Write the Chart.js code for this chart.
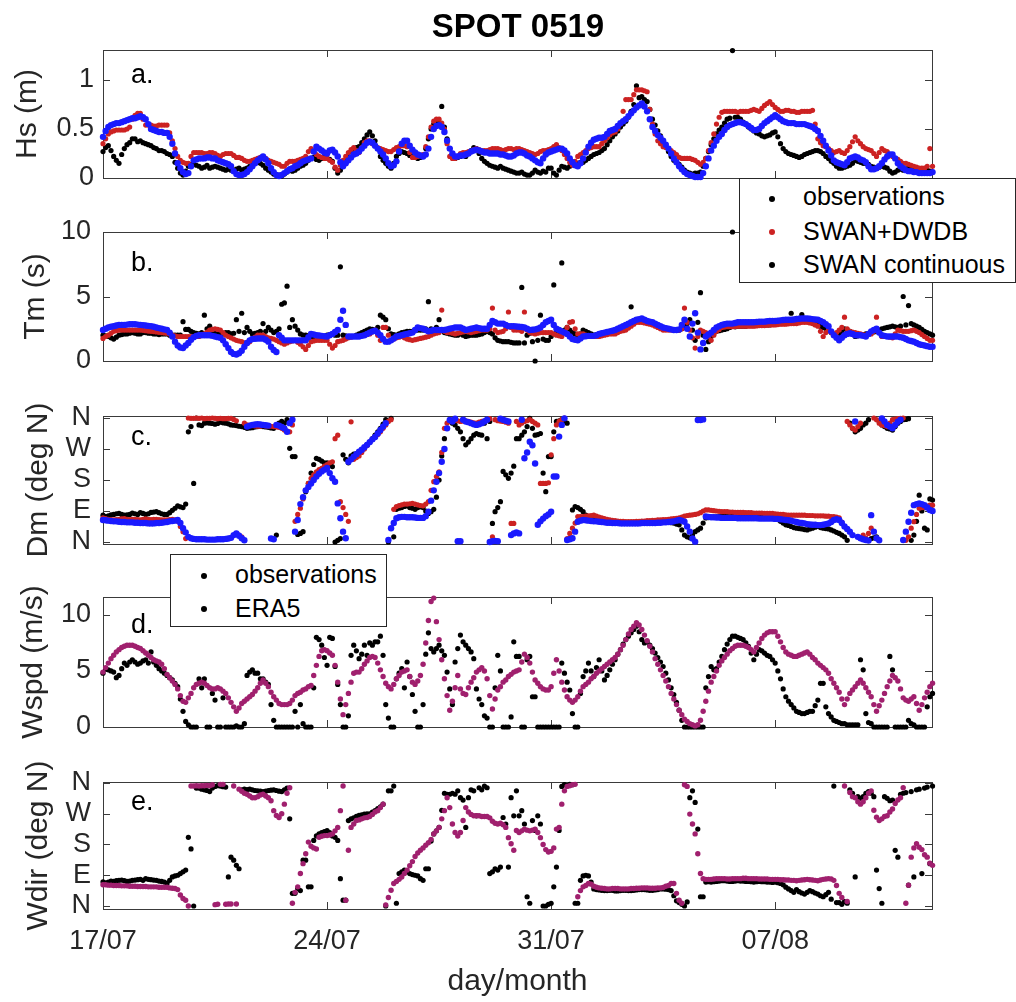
<!DOCTYPE html>
<html><head><meta charset="utf-8">
<script src="https://cdn.jsdelivr.net/npm/chart.js@4.4.1/dist/chart.umd.min.js"></script>
<style>
html,body{margin:0;padding:0;background:#fff;}
body{width:1016px;height:1002px;position:relative;overflow:hidden;font-family:"Liberation Sans",Arial,sans-serif;}
canvas{position:absolute;left:0;top:0;}
.t{position:absolute;line-height:1;white-space:nowrap;color:#000;}
.leg{position:absolute;border:1px solid #262626;background:#fff;box-sizing:border-box;}
.dot{position:absolute;width:6px;height:6px;border-radius:50%;background:#000;}
</style></head><body>
<canvas id="ca" width="1016" height="1002"></canvas>
<canvas id="cb" width="1016" height="1002"></canvas>
<canvas id="cc" width="1016" height="1002"></canvas>
<canvas id="cd" width="1016" height="1002"></canvas>
<canvas id="ce" width="1016" height="1002"></canvas>
<div class="t" id="title" style="font-weight:bold;font-size:33px;left:0;width:1036px;text-align:center;top:9px;">SPOT 0519</div>
<div class="leg" style="left:739px;top:178px;width:277px;height:105px;">
  <div class="dot" style="left:29px;top:17px;"></div><div class="t" style="left:63px;top:5px;font-size:25px;">observations</div>
  <div class="dot" style="left:29px;top:50px;background:#cc2222;"></div><div class="t" style="left:63px;top:40px;font-size:25px;">SWAN+DWDB</div>
  <div class="dot" style="left:29px;top:83px;"></div><div class="t" style="left:63px;top:73px;font-size:25px;">SWAN continuous</div>
</div>
<div class="leg" style="left:170px;top:554px;width:217px;height:73px;">
  <div class="dot" style="left:30px;top:18px;"></div><div class="t" style="left:64px;top:7px;font-size:25px;">observations</div>
  <div class="dot" style="left:30px;top:51px;"></div><div class="t" style="left:64px;top:41px;font-size:25px;">ERA5</div>
</div>
<script>
// ---------------- DATA (2-hourly samples from 17/07 00:00, one row = one day) ----------------
const XTICK_DAYS = [0, 7, 14, 21];
const XTICK_LABELS = ['17/07', '24/07', '31/07', '07/08'];
const X_MAX_DAYS = 25.9;
const STEP_DAYS = 1 / 12;

const HS_SWAN = [
0.42,0.48,0.52,0.54,0.55,0.56,0.56,0.57,0.58,0.59,0.60,0.61,
0.61,0.62,0.63,0.62,0.60,0.55,0.50,0.49,0.48,0.47,0.47,0.46,
0.46,0.42,0.35,0.25,0.15,0.10,0.06,0.04,0.05,0.12,0.18,0.19,
0.20,0.20,0.20,0.21,0.21,0.20,0.20,0.18,0.17,0.16,0.15,0.14,
0.12,0.07,0.04,0.03,0.03,0.04,0.06,0.09,0.12,0.15,0.18,0.20,
0.22,0.19,0.15,0.10,0.06,0.03,0.02,0.03,0.05,0.07,0.09,0.10,
0.12,0.13,0.15,0.17,0.18,0.19,0.20,0.27,0.32,0.30,0.28,0.26,
0.25,0.28,0.29,0.26,0.22,0.16,0.12,0.15,0.18,0.21,0.24,0.25,
0.27,0.30,0.33,0.36,0.37,0.36,0.33,0.30,0.27,0.24,0.20,0.15,
0.12,0.13,0.17,0.27,0.35,0.38,0.38,0.33,0.29,0.26,0.24,0.23,
0.22,0.24,0.30,0.42,0.50,0.53,0.54,0.52,0.47,0.38,0.30,0.25,
0.22,0.22,0.23,0.23,0.24,0.25,0.27,0.28,0.29,0.28,0.27,0.26,
0.26,0.25,0.25,0.25,0.25,0.24,0.24,0.23,0.22,0.22,0.23,0.25,
0.26,0.26,0.25,0.23,0.22,0.20,0.18,0.16,0.15,0.20,0.24,0.26,
0.27,0.28,0.29,0.30,0.30,0.28,0.25,0.20,0.16,0.13,0.12,0.15,
0.20,0.26,0.32,0.36,0.39,0.40,0.41,0.41,0.42,0.45,0.48,0.49,
0.50,0.53,0.56,0.58,0.60,0.63,0.66,0.69,0.72,0.74,0.76,0.73,
0.68,0.60,0.52,0.48,0.44,0.41,0.38,0.34,0.30,0.25,0.20,0.16,
0.12,0.09,0.06,0.04,0.03,0.02,0.01,0.01,0.01,0.05,0.12,0.20,
0.28,0.33,0.38,0.42,0.45,0.49,0.52,0.54,0.55,0.56,0.57,0.57,
0.56,0.55,0.53,0.51,0.49,0.49,0.50,0.53,0.56,0.58,0.60,0.62,
0.64,0.62,0.60,0.58,0.57,0.56,0.56,0.56,0.55,0.55,0.55,0.55,
0.54,0.53,0.52,0.50,0.48,0.43,0.38,0.33,0.28,0.23,0.18,0.16,
0.15,0.14,0.13,0.16,0.20,0.21,0.22,0.21,0.19,0.18,0.16,0.12,
0.09,0.09,0.10,0.12,0.15,0.19,0.22,0.24,0.24,0.20,0.15,0.12,
0.10,0.08,0.07,0.07,0.06,0.06,0.05,0.05,0.05,0.05,0.05,0.06];
const HS_DWDB = [
0.35,0.40,0.45,0.47,0.48,0.49,0.49,0.49,0.49,0.50,0.52,0.60,
0.64,0.66,0.66,0.60,0.54,0.54,0.54,0.53,0.53,0.54,0.54,0.54,
0.54,0.46,0.38,0.30,0.22,0.18,0.16,0.15,0.15,0.22,0.26,0.26,
0.26,0.26,0.25,0.25,0.26,0.26,0.25,0.23,0.22,0.24,0.25,0.25,
0.25,0.23,0.21,0.21,0.20,0.18,0.17,0.17,0.18,0.19,0.20,0.21,
0.21,0.20,0.18,0.17,0.16,0.15,0.14,0.12,0.12,0.15,0.17,0.17,
0.17,0.18,0.19,0.20,0.22,0.27,0.30,0.27,0.24,0.22,0.21,0.20,
0.20,0.18,0.16,0.11,0.08,0.13,0.18,0.22,0.26,0.29,0.31,0.28,
0.26,0.31,0.36,0.38,0.38,0.35,0.33,0.31,0.30,0.29,0.28,0.27,
0.27,0.29,0.31,0.32,0.33,0.33,0.32,0.26,0.21,0.21,0.22,0.23,
0.24,0.32,0.42,0.52,0.58,0.60,0.60,0.56,0.50,0.35,0.22,0.20,
0.20,0.22,0.25,0.26,0.26,0.27,0.27,0.29,0.30,0.29,0.28,0.28,
0.28,0.29,0.30,0.30,0.30,0.29,0.28,0.29,0.30,0.30,0.29,0.30,
0.30,0.29,0.28,0.27,0.26,0.25,0.24,0.25,0.27,0.28,0.28,0.29,
0.30,0.32,0.34,0.31,0.28,0.24,0.20,0.16,0.13,0.17,0.22,0.24,
0.26,0.28,0.30,0.31,0.32,0.32,0.32,0.35,0.38,0.41,0.44,0.46,
0.47,0.50,0.55,0.68,0.80,0.80,0.80,0.85,0.90,0.90,0.90,0.89,
0.88,0.70,0.55,0.45,0.38,0.35,0.32,0.31,0.30,0.28,0.26,0.24,
0.21,0.20,0.20,0.20,0.20,0.19,0.18,0.16,0.14,0.16,0.20,0.28,
0.36,0.45,0.55,0.62,0.67,0.68,0.68,0.68,0.68,0.68,0.67,0.68,
0.68,0.68,0.68,0.69,0.70,0.69,0.68,0.71,0.74,0.76,0.78,0.75,
0.72,0.70,0.68,0.68,0.69,0.69,0.68,0.68,0.67,0.67,0.68,0.68,
0.68,0.68,0.69,0.55,0.40,0.36,0.33,0.32,0.30,0.28,0.26,0.27,
0.28,0.26,0.25,0.28,0.32,0.37,0.42,0.38,0.35,0.32,0.30,0.29,
0.28,0.25,0.22,0.26,0.30,0.28,0.27,0.24,0.22,0.20,0.19,0.17,
0.15,0.15,0.14,0.13,0.12,0.11,0.10,0.10,0.10,0.12,0.30,0.12];
const HS_OBS = [
0.27,0.31,0.33,0.28,0.22,0.18,0.15,0.24,0.30,0.34,0.36,0.40,
0.40,0.37,0.38,0.36,0.35,0.34,0.33,0.31,0.30,0.28,0.28,0.27,
0.25,0.24,0.22,0.16,0.10,0.05,0.03,0.07,0.12,0.14,0.14,0.13,
0.12,0.10,0.11,0.13,0.10,0.11,0.12,0.11,0.10,0.09,0.08,0.09,
0.08,0.07,0.09,0.10,0.08,0.09,0.10,0.12,0.13,0.15,0.16,0.15,
0.13,0.10,0.08,0.06,0.04,0.03,0.03,0.02,0.04,0.06,0.08,0.07,
0.08,0.10,0.12,0.13,0.15,0.18,0.20,0.21,0.19,0.18,0.20,0.21,
0.20,0.19,0.17,0.10,0.05,0.08,0.12,0.17,0.22,0.27,0.30,0.31,
0.32,0.36,0.40,0.44,0.47,0.43,0.38,0.30,0.22,0.18,0.15,0.12,
0.10,0.15,0.22,0.25,0.27,0.26,0.25,0.23,0.22,0.21,0.20,0.21,
0.22,0.30,0.40,0.50,0.55,0.57,0.56,0.73,0.52,0.40,0.30,0.24,
0.20,0.21,0.22,0.24,0.22,0.25,0.28,0.31,0.30,0.25,0.20,0.17,
0.15,0.13,0.12,0.11,0.10,0.12,0.10,0.09,0.08,0.07,0.06,0.05,
0.05,0.06,0.04,0.03,0.03,0.05,0.08,0.06,0.05,0.07,0.06,0.10,
0.10,0.05,0.03,0.08,0.12,0.11,0.10,0.12,0.14,0.15,0.15,0.16,
0.16,0.18,0.20,0.22,0.24,0.25,0.26,0.28,0.30,0.34,0.38,0.42,
0.45,0.48,0.52,0.55,0.58,0.62,0.68,0.75,0.94,0.82,0.83,0.80,
0.78,0.70,0.60,0.54,0.48,0.43,0.38,0.32,0.27,0.22,0.18,0.16,
0.14,0.11,0.08,0.06,0.05,0.04,0.05,0.05,0.06,0.12,0.20,0.27,
0.34,0.40,0.45,0.49,0.52,0.56,0.60,0.61,1.30,0.62,0.62,0.60,
0.57,0.55,0.52,0.50,0.48,0.46,0.45,0.43,0.42,0.43,0.44,0.46,
0.47,0.42,0.35,0.30,0.27,0.25,0.24,0.23,0.22,0.21,0.22,0.24,
0.25,0.26,0.27,0.28,0.28,0.27,0.25,0.22,0.20,0.17,0.15,0.12,
0.10,0.10,0.11,0.12,0.13,0.15,0.18,0.17,0.16,0.15,0.15,0.14,
0.12,0.11,0.10,0.11,0.12,0.11,0.10,0.07,0.05,0.06,0.08,0.09,
0.08,0.09,0.10,0.10,0.09,0.08,0.08,0.07,0.07,0.08,0.07,0.06];

const TM_SWAN = [
2.4,2.5,2.6,2.65,2.7,2.75,2.8,2.8,2.8,2.82,2.85,2.85,
2.85,2.82,2.8,2.78,2.75,2.72,2.7,2.65,2.6,2.55,2.5,2.45,
2.4,2.2,1.9,1.5,1.2,1.05,1.0,1.2,1.4,1.65,1.85,1.95,
2.0,2.0,2.0,2.0,2.0,1.95,1.9,1.85,1.8,1.6,1.3,1.0,
0.7,0.55,0.5,0.6,0.8,1.1,1.4,1.6,1.7,1.72,1.75,1.75,
1.75,1.65,1.5,1.1,0.85,0.7,2.0,1.8,1.6,1.6,1.6,1.6,
1.6,1.6,1.6,1.6,1.6,1.85,2.1,2.05,2.0,1.98,1.95,1.92,
1.9,2.0,2.1,2.25,2.4,3.2,3.9,2.8,1.9,1.9,1.9,1.9,
1.9,1.95,2.0,2.1,2.2,2.3,2.35,2.2,2.0,1.7,1.5,1.5,
1.6,1.75,1.9,1.95,2.0,2.05,2.1,2.15,2.2,2.4,2.6,2.55,
2.5,2.4,2.3,2.35,2.4,2.4,2.4,2.4,2.4,2.45,2.5,2.55,
2.6,2.6,2.6,2.5,2.4,2.45,2.5,2.55,2.6,2.55,2.5,2.5,
2.5,2.8,3.1,3.0,2.9,2.9,2.9,2.8,2.7,2.7,2.7,2.68,
2.66,2.63,2.6,2.5,2.4,2.42,2.45,2.5,2.6,2.8,3.0,3.1,
3.2,2.8,2.5,2.4,2.3,2.2,2.1,1.9,1.7,1.65,1.6,1.75,
1.9,1.92,1.95,1.95,1.95,2.0,2.1,2.15,2.2,2.25,2.3,2.35,
2.4,2.5,2.6,2.7,2.8,2.9,3.0,3.1,3.2,3.25,3.3,3.2,
3.1,3.05,3.0,2.9,2.8,2.7,2.6,2.55,2.5,2.45,2.4,2.4,
2.45,2.8,3.2,2.5,1.9,2.9,3.7,2.2,0.9,1.4,1.9,2.05,
2.2,2.4,2.6,2.7,2.8,2.85,2.9,2.9,2.9,2.95,3.0,3.0,
3.0,3.0,3.0,3.0,3.0,3.02,3.05,3.05,3.05,3.08,3.1,3.1,
3.1,3.12,3.15,3.18,3.2,3.2,3.2,3.22,3.25,3.28,3.3,3.3,
3.3,3.28,3.25,3.22,3.2,3.1,3.0,2.85,2.7,2.3,2.0,1.8,
1.6,1.8,2.0,2.1,2.15,2.1,2.0,2.0,2.0,1.95,1.9,2.1,
2.3,2.4,2.5,2.2,2.0,1.95,1.9,1.9,1.9,1.9,1.9,1.85,
1.8,1.7,1.6,1.55,1.5,1.4,1.3,1.25,1.2,1.15,1.1,1.1];
const TM_DWDB = [
1.75,1.9,2.0,2.15,2.3,2.35,2.4,2.4,2.4,2.4,2.4,2.4,
2.4,2.4,2.4,2.38,2.35,2.32,2.3,2.28,2.25,2.22,2.2,2.18,
2.15,2.1,2.0,1.95,1.9,1.9,1.9,1.9,1.9,1.9,1.9,1.9,
1.9,2.0,2.1,2.25,2.4,2.45,2.5,2.45,2.4,2.2,2.0,1.9,
1.8,1.7,1.6,1.55,1.5,1.4,1.37,1.5,1.7,1.85,2.0,2.0,
2.0,1.9,1.8,1.75,1.7,1.6,1.5,1.4,1.3,1.4,1.5,1.55,
1.6,1.45,1.3,1.1,0.9,1.2,1.5,1.55,1.6,1.6,1.6,1.6,
1.6,1.3,1.0,1.2,1.5,1.55,1.6,1.7,1.8,1.85,1.9,1.9,
1.9,1.95,2.0,2.05,2.1,2.25,2.4,2.0,1.6,2.6,2.6,2.0,
1.6,1.7,1.8,1.85,1.9,1.8,1.7,1.65,1.6,1.65,1.7,1.75,
1.8,1.85,1.9,2.0,2.1,2.15,2.2,3.95,2.3,2.2,2.2,2.15,
2.1,2.15,2.2,2.25,2.3,2.25,2.2,2.25,2.3,2.35,2.4,2.4,
2.4,2.5,4.1,2.4,2.2,2.25,2.3,2.5,3.8,2.6,2.4,2.4,
2.4,2.3,3.8,2.4,2.2,2.15,2.1,2.15,2.2,2.2,2.2,2.2,
2.2,2.1,2.0,1.95,1.9,2.3,2.6,3.0,3.05,2.5,2.1,2.1,
2.1,2.0,1.9,1.9,1.9,1.9,1.9,1.95,2.0,2.05,2.1,2.1,
2.1,2.2,2.3,2.35,2.4,2.55,2.7,2.85,3.0,3.0,3.0,2.95,
2.9,2.85,2.8,2.7,2.6,2.5,2.4,2.4,2.4,2.4,2.4,2.4,
2.4,2.5,4.1,3.0,2.4,1.8,1.0,1.9,2.4,2.3,2.2,1.9,
1.6,2.0,2.3,2.45,2.6,2.63,2.66,2.66,2.66,2.68,2.7,2.7,
2.7,2.7,2.7,2.7,2.7,2.72,2.75,2.75,2.75,2.78,2.8,2.8,
2.8,2.82,2.85,2.85,2.85,2.88,2.9,2.9,2.9,2.95,3.0,3.0,
3.0,2.95,2.9,2.8,2.7,2.3,1.9,2.2,2.4,2.2,2.0,2.2,
2.4,2.6,3.4,2.5,2.3,2.25,2.2,2.15,2.1,2.05,2.0,2.05,
2.1,2.3,3.4,2.2,1.9,1.9,1.9,1.85,1.8,2.1,2.4,2.35,
2.3,2.3,2.3,2.35,2.4,2.3,2.2,2.05,1.9,1.75,1.6,1.6];
const TM_OBS = [
2.0,1.95,1.9,1.8,1.7,1.85,2.0,2.05,2.1,2.1,2.15,2.2,
2.15,2.1,2.1,2.2,2.2,2.15,2.15,2.1,2.1,2.05,2.1,2.1,
2.1,2.0,2.0,2.0,2.0,2.0,3.05,2.45,2.45,2.3,2.2,2.15,
2.1,2.2,3.55,2.5,2.7,2.3,2.2,2.15,2.1,2.1,2.2,2.2,
2.1,2.15,3.2,2.3,3.7,2.2,2.6,2.3,2.1,2.15,2.2,2.3,
2.9,2.3,2.6,2.4,2.2,2.3,2.5,4.4,4.5,5.8,2.6,3.2,
2.7,2.4,2.1,2.0,2.0,1.95,1.9,1.9,1.9,1.95,1.9,1.9,
2.0,2.05,2.1,2.0,2.0,7.3,2.0,1.95,1.9,1.9,1.9,2.0,
2.1,2.2,2.3,2.4,2.5,2.45,2.4,2.6,3.55,3.4,3.2,2.5,
2.1,2.05,2.0,2.1,2.2,2.25,2.3,2.3,2.3,2.35,2.4,2.4,
2.4,2.5,4.6,2.5,2.4,2.6,3.2,2.4,2.2,2.15,2.1,2.05,
2.0,2.0,2.1,2.0,1.9,1.95,2.0,2.0,2.0,2.05,2.1,2.2,
2.3,2.2,2.1,1.8,1.6,1.55,1.5,1.5,1.5,1.45,1.4,1.4,
1.4,5.7,1.4,2.0,2.15,1.5,0.0,1.6,3.55,1.7,1.6,1.6,
1.9,5.9,2.2,2.0,7.6,2.4,2.6,2.4,2.2,2.1,2.0,2.1,
2.4,2.3,2.2,2.1,2.0,2.05,2.1,2.15,2.2,2.25,2.3,2.35,
2.4,2.45,2.5,2.6,2.7,2.9,4.2,3.1,3.2,3.15,3.1,3.05,
3.0,2.95,2.9,2.8,2.7,2.65,2.6,2.55,2.5,2.45,2.4,2.4,
2.4,2.5,2.6,2.9,3.2,2.4,1.6,3.0,5.3,2.0,0.9,1.5,
1.9,2.1,2.3,2.35,2.4,2.45,2.5,2.6,10.0,2.65,2.7,2.7,
2.7,2.7,2.75,2.75,2.75,2.8,2.8,2.8,2.8,2.8,2.8,2.85,
2.9,2.9,2.9,2.95,2.95,3.0,3.7,3.2,3.3,3.3,3.6,3.3,
3.2,3.1,3.0,2.9,2.8,2.7,2.6,2.5,2.4,2.2,2.0,2.0,
2.1,2.3,2.5,2.4,2.3,2.1,1.9,1.95,2.0,2.05,2.1,2.15,
2.2,2.25,2.3,2.4,2.5,2.55,2.6,2.65,2.7,2.65,2.6,2.7,
5.0,2.8,4.3,2.9,2.8,2.7,2.6,2.45,2.3,2.2,2.1,2.0];

const DM_SWAN = [
64,63,62,61,60,60,59,58,58,57,57,57,
56,56,55,55,55,54,54,54,55,55,56,57,
58,60,61,62,64,55,40,28,15,11,9,8,
8,8,8,7,7,7,7,8,8,8,9,10,
12,20,25,18,11,5,335,338,340,341,342,341,
340,339,338,10,8,340,338,334,330,320,345,355,
30,64,110,130,150,160,170,180,190,198,205,210,
215,200,185,175,112,69,30,11,233,240,248,255,
262,268,275,282,290,298,305,315,325,335,345,6,
40,55,69,72,73,73,72,72,72,71,70,70,
70,75,88,120,150,175,200,233,270,330,354,350,
358,2,2,355,350,348,345,342,340,342,345,350,
355,0,2,3,2,358,355,352,350,20,25,28,
25,355,243,260,291,281,228,50,60,68,75,80,
88,190,190,306,340,359,6,8,11,30,59,62,
64,63,62,61,60,60,59,58,57,56,56,55,
55,55,54,54,54,54,54,54,54,54,55,55,
55,55,55,55,56,56,57,57,58,59,60,62,
64,62,59,45,30,10,1,354,354,356,74,73,
72,72,71,71,70,70,70,70,70,70,69,69,
69,69,69,69,69,69,68,68,68,68,68,68,
67,67,66,65,64,63,62,60,58,56,55,54,
52,51,50,50,49,49,50,52,54,58,64,66,
64,55,45,38,30,20,350,15,11,8,6,4,
78,30,11,5,359,350,340,335,330,340,349,355,
6,30,59,85,107,110,112,110,107,100,93,90];
const DM_DWDB = [
70,68,66,65,64,65,66,67,68,66,65,66,
66,65,64,66,67,66,65,66,66,65,64,64,
64,65,66,64,60,45,30,10,360,359,359,360,
359,360,358,359,359,360,359,358,359,358,358,359,
359,356,352,20,15,345,340,339,338,337,336,336,
338,337,336,336,335,334,333,330,325,322,320,340,
60,80,98,125,150,170,185,195,204,210,214,220,
225,230,233,300,310,117,100,80,60,349,240,245,
250,260,270,280,290,298,305,312,320,330,340,350,
355,95,103,106,108,110,110,111,112,110,108,106,
105,110,117,150,175,190,204,260,330,345,352,355,
355,352,350,351,352,350,348,346,345,348,350,352,
355,358,15,355,352,351,350,348,345,54,54,350,
340,345,350,352,355,350,345,340,170,170,170,172,
253,300,340,350,355,360,10,25,40,55,74,74,
74,75,76,77,78,75,72,70,68,66,64,63,
62,61,60,60,59,59,59,59,60,60,61,61,
62,62,63,63,64,64,65,65,66,67,68,69,
70,72,75,77,78,79,80,82,85,90,93,93,
92,91,90,89,88,88,88,87,87,86,86,86,
86,85,85,85,84,84,84,84,83,83,83,83,
82,81,80,80,79,78,78,78,78,78,78,78,
77,77,77,76,76,76,76,75,75,74,74,72,
70,58,45,350,340,330,325,335,345,20,11,25,
40,360,355,345,340,338,335,345,355,357,358,359,
360,5,15,40,59,80,98,100,100,104,107,107];
const DM_OBS = [
78,74,76,79,80,82,83,80,78,79,80,84,
82,80,85,83,80,82,86,87,88,85,82,80,
80,85,92,98,105,102,100,110,320,335,170,360,
340,338,345,346,345,344,342,344,348,346,345,343,
340,339,338,336,335,333,330,331,332,334,335,336,
335,334,333,331,330,20,345,350,345,355,272,248,
248,22,25,30,146,170,200,225,243,240,235,230,
230,225,219,0,5,10,253,240,230,250,255,257,
257,265,275,283,290,300,310,320,330,342,355,0,
359,15,95,98,100,103,105,100,98,95,100,102,
100,90,83,88,95,130,180,250,300,330,350,345,
340,330,320,300,282,290,300,310,315,312,310,345,
300,350,54,88,100,117,205,195,185,200,220,300,
300,310,320,335,359,330,310,312,315,200,146,248,
248,320,350,352,355,350,345,10,93,103,100,95,
88,78,70,66,64,63,62,61,60,59,58,58,
57,57,56,56,56,56,57,57,58,58,58,58,
58,58,59,59,60,60,60,59,58,56,55,52,
50,35,20,15,12,20,30,35,40,55,70,71,
72,72,73,74,75,75,74,74,75,76,76,76,
76,76,75,75,75,75,74,73,72,71,70,70,
70,65,60,55,50,48,45,42,40,39,38,36,
35,38,40,43,45,42,40,39,38,35,32,28,
25,20,15,5,345,330,320,325,330,340,345,355,
10,12,15,350,340,335,330,328,325,335,345,350,
355,356,358,5,20,60,136,90,40,35,125,122];

const WSPD_ERA5 = [
4.9,5.3,5.7,6.1,6.4,6.7,6.9,7.1,7.2,7.3,7.3,7.3,
7.2,7.1,7.0,6.8,6.6,6.4,6.2,6.0,5.9,5.8,5.6,5.2,
4.7,4.4,4.1,3.8,3.4,2.8,2.3,2.2,2.6,3.0,3.5,3.8,
3.9,4.0,3.9,3.7,3.5,3.4,3.4,3.5,3.4,3.2,3.0,2.6,
2.2,1.8,1.4,1.7,2.1,2.3,2.5,2.7,2.9,3.2,3.5,3.9,
4.2,3.9,3.6,3.1,2.7,2.4,2.1,2.0,2.0,2.0,2.1,2.4,
2.8,3.0,3.1,3.3,3.4,3.6,3.7,4.6,5.5,6.3,6.8,6.9,
6.8,6.6,6.4,5.5,4.0,2.5,1.1,2.0,3.0,4.0,4.8,4.9,
4.9,5.2,5.6,5.9,6.2,6.3,6.2,5.7,5.1,4.5,3.9,3.6,
3.4,3.8,4.3,4.6,4.9,5.0,5.1,4.5,4.0,3.8,4.1,4.6,
5.6,7.5,9.5,11.2,11.5,9.4,7.8,6.0,4.3,2.8,1.5,2.3,
3.5,4.6,3.4,3.0,2.9,3.5,4.0,4.4,4.9,5.1,5.3,5.0,
4.3,2.8,1.6,2.5,3.3,3.6,4.0,4.2,4.5,4.7,4.9,5.0,
5.1,5.8,6.5,6.2,5.7,4.9,4.2,3.9,3.6,3.4,3.3,3.3,
3.6,4.8,6.0,5.0,4.0,3.3,2.7,2.4,2.2,2.4,2.7,3.2,
3.6,3.8,4.0,4.3,4.5,4.8,5.0,5.2,5.4,5.6,5.8,6.0,
6.2,6.5,6.9,7.3,7.8,8.3,8.7,9.0,9.3,9.1,8.7,8.2,
7.7,7.2,6.7,6.1,5.6,5.1,4.6,4.1,3.6,3.0,2.5,2.0,
1.5,1.1,0.7,0.5,0.3,0.2,0.1,0.2,0.6,1.4,2.3,3.2,
4.0,4.5,5.0,5.5,5.9,6.2,6.5,6.8,7.0,7.2,7.3,7.3,
7.3,7.2,7.1,6.9,6.7,7.1,7.5,7.9,8.2,8.4,8.5,8.5,
8.5,8.1,7.6,7.1,6.7,6.5,6.4,6.3,6.3,6.4,6.5,6.6,
6.7,6.5,6.2,6.0,5.7,5.5,5.3,5.1,4.8,4.3,3.9,3.5,
3.1,2.5,2.0,2.5,3.0,3.3,3.6,3.9,4.2,3.9,3.5,3.1,
2.7,2.0,1.4,1.9,2.4,3.0,3.6,4.1,4.6,4.4,4.1,3.4,
2.6,2.4,2.3,2.5,2.7,2.1,1.5,2.0,2.6,3.1,3.6,3.9];
const WSPD_OBS = [
4.8,5.2,5.1,5.0,4.9,4.4,4.6,5.2,5.7,5.5,5.8,6.0,
5.8,5.6,5.7,5.9,6.0,5.7,6.7,5.8,5.5,5.2,5.0,4.8,
4.6,4.4,4.2,3.9,3.6,2.5,1.4,0.5,0.2,0.0,0.0,0.0,
4.3,3.5,4.3,0.0,0.0,3.0,2.4,0.0,0.0,2.6,0.0,0.0,
0.0,0.0,0.1,0.0,0.0,0.3,4.6,4.9,5.1,4.8,4.8,4.3,
4.3,4.0,3.8,2.0,0.6,0.0,0.0,0.0,0.0,0.0,0.0,0.0,
1.4,0.0,2.0,0.3,0.0,0.0,0.0,3.5,8.0,7.8,7.3,6.2,
5.5,8.0,7.9,5.4,3.8,2.0,0.0,0.0,1.0,6.4,7.3,6.8,
6.1,6.5,7.3,6.4,7.5,7.3,7.6,7.6,8.1,6.4,2.0,0.8,
0.0,0.0,4.3,4.8,5.2,3.5,5.8,4.5,2.9,1.4,0.0,0.0,
2.0,6.5,8.4,7.0,6.7,7.0,7.3,6.8,6.4,4.9,3.4,2.0,
5.8,7.0,8.2,7.6,7.3,7.0,6.7,6.1,3.4,2.5,2.0,1.0,
0.8,0.0,0.0,3.5,6.4,5.0,0.0,0.0,0.0,0.9,7.6,6.3,
6.3,0.0,0.0,6.0,6.3,2.7,2.7,0.0,0.0,0.0,0.0,0.0,
0.0,0.0,0.0,0.0,5.7,4.8,4.0,3.3,1.2,0.0,0.0,3.0,
4.5,5.0,5.7,5.0,4.5,5.3,6.0,5.0,4.2,4.6,5.1,5.6,
6.0,6.5,6.9,7.4,7.8,8.1,8.4,8.7,9.0,8.5,7.8,7.5,
7.6,7.3,7.0,6.6,6.2,5.8,5.4,4.8,4.2,3.5,2.9,2.2,
1.5,0.6,0.0,0.0,0.0,0.0,0.0,0.0,0.0,0.0,3.5,4.5,
5.4,5.1,5.2,5.8,6.3,6.9,7.4,7.8,8.1,8.1,8.0,7.9,
7.8,7.5,7.2,6.6,6.0,6.5,6.9,6.8,6.6,6.4,6.3,6.0,
5.7,5.0,4.3,3.4,2.7,2.3,2.0,1.7,1.4,1.3,1.2,1.2,
1.3,1.4,1.4,1.9,2.4,3.9,3.9,1.8,1.2,0.9,0.6,0.5,
0.4,0.3,0.3,0.2,0.2,0.2,0.2,0.2,6.0,5.1,1.2,0.4,
0.3,0.0,0.0,0.0,0.0,0.0,0.0,6.3,5.1,0.0,0.0,0.0,
0.0,0.0,0.6,0.3,0.2,0.0,0.0,0.0,0.0,1.8,2.7,3.0];

const WDIR_ERA5 = [
62,62,61,61,60,60,60,59,59,59,58,58,
58,57,57,57,57,56,56,56,56,55,55,55,
55,53,52,51,48,32,22,17,0,351,351,352,
351,352,352,353,352,355,4,5,356,356,5,6,
6,351,6,342,336,330,327,322,317,317,320,325,
327,322,317,308,279,265,259,270,298,330,346,8,
40,56,95,124,153,187,175,170,167,201,204,206,
206,208,211,220,230,279,351,17,163,230,240,250,
252,255,258,259,262,268,275,279,288,298,3,25,
46,66,72,78,85,95,105,118,130,145,155,163,
170,178,185,195,211,220,230,255,279,317,288,240,
215,205,215,250,288,275,268,264,264,264,262,262,
262,258,248,242,240,242,238,230,200,182,163,221,
215,220,225,222,220,222,225,215,200,180,165,158,
160,170,225,230,298,337,350,352,355,356,27,45,
56,60,66,64,58,55,53,52,51,50,50,51,
51,51,50,50,50,50,51,51,52,52,53,53,
53,52,52,52,53,53,54,58,60,66,66,37,
17,8,355,350,269,240,211,153,95,80,78,78,
78,79,80,80,80,80,79,79,80,80,80,80,
81,81,80,80,80,80,79,79,79,79,78,78,
78,78,77,77,76,76,75,75,74,75,76,77,
78,77,76,75,74,76,78,79,80,79,75,60,
37,25,351,13,332,320,317,305,298,305,317,330,
337,280,260,250,255,262,264,275,284,300,310,317,
346,8,61,143,170,182,172,165,150,143,125,119];
const WDIR_OBS = [
71,68,70,73,72,74,75,76,74,72,73,75,
76,77,78,75,80,78,77,76,75,73,72,70,
66,75,85,88,90,95,100,105,201,167,0,345,
345,342,340,338,335,345,350,352,351,349,348,85,
143,134,119,109,340,342,341,342,340,338,337,336,
335,336,338,339,340,338,336,335,340,345,255,37,
37,51,45,134,134,56,56,192,205,211,215,218,
221,215,205,201,192,80,17,17,250,255,258,262,
265,267,269,270,270,275,279,285,290,298,0,337,
337,351,8,95,100,105,100,95,92,90,88,80,
75,109,109,190,211,220,230,280,330,327,327,330,
327,337,317,310,230,317,340,337,264,346,340,351,
346,95,100,109,105,114,259,240,114,317,264,337,
264,279,240,27,8,250,221,264,240,0,0,5,
8,56,114,221,350,355,352,356,355,8,8,75,
88,90,88,70,50,48,47,46,45,45,46,46,
44,44,45,46,46,45,45,46,47,48,48,48,
47,46,46,47,48,50,50,49,48,45,30,15,
10,5,0,12,317,337,303,225,27,27,70,71,
70,71,72,73,74,74,73,72,72,73,74,73,
73,72,72,71,70,71,72,71,71,70,70,69,
70,68,66,62,55,50,45,40,48,42,38,35,
40,45,42,38,35,30,27,33,40,20,351,10,
10,5,13,8,340,330,85,320,315,320,330,335,
330,320,105,51,8,320,315,308,310,163,143,327,
330,332,61,335,85,340,342,95,345,348,124,351];

// ---------------- STYLE ----------------
const FONT = "'Liberation Sans', Arial, sans-serif";
const INK = '#262626';
const BLACK = '#000000', RED = '#cc2222', BLUE = '#1a1aff', PURPLE = '#a0206e';
const DIR_LABELS = {0: 'N', 90: 'E', 180: 'S', 270: 'W', 360: 'N'};
Chart.defaults.font.family = FONT;

function pts(arr) {
  const out = [];
  arr.forEach((v, i) => { if (v !== null) out.push({x: i * STEP_DAYS, y: v}); });
  return out;
}

const boxPlugin = {
  id: 'box',
  beforeDatasetsDraw(chart) {
    const {ctx, chartArea: a, scales: {x, y}} = chart;
    const o = chart.options.plugins.box;
    ctx.save();
    ctx.strokeStyle = '#3a3a3a';
    ctx.lineWidth = 1;
    ctx.strokeRect(Math.round(a.left) + 0.5, Math.round(a.top) + 0.5, Math.round(a.right - a.left), Math.round(a.bottom - a.top));
    const L = 7;
    ctx.beginPath();
    x.ticks.forEach(t => {
      const px = Math.round(x.getPixelForValue(t.value)) + 0.5;
      ctx.moveTo(px, a.bottom); ctx.lineTo(px, a.bottom - L);
      ctx.moveTo(px, a.top); ctx.lineTo(px, a.top + L);
    });
    y.ticks.forEach(t => {
      const py = Math.round(y.getPixelForValue(t.value)) + 0.5;
      ctx.moveTo(a.left, py); ctx.lineTo(a.left + L, py);
      ctx.moveTo(a.right, py); ctx.lineTo(a.right - L, py);
    });
    ctx.stroke();
    ctx.fillStyle = '#000';
    ctx.font = '27px ' + FONT;
    ctx.textBaseline = 'alphabetic';
    ctx.fillText(o.label, o.lx, o.ly);
    ctx.restore();
  }
};

function makePanel(cfg) {
  const [L, T, R, B] = cfg.rect;
  const showX = !!cfg.showX;
  const xH = showX ? 1002 - B : 0;
  const datasets = cfg.series.map(([arr, color, r]) => ({
    data: pts(arr), backgroundColor: color, borderWidth: 0, pointRadius: r,
    pointBorderWidth: 0, pointHoverRadius: r, showLine: false, clip: false
  }));
  new Chart(document.getElementById(cfg.id), {
    type: 'scatter',
    data: {datasets},
    options: {
      responsive: false, animation: false, events: [],
      layout: {padding: {left: 0, top: T, right: 1016 - R, bottom: 1002 - B - xH}},
      plugins: {legend: {display: false}, tooltip: {enabled: false},
                box: {label: cfg.label, lx: cfg.lx, ly: cfg.ly}},
      scales: {
        x: {
          type: 'linear', min: 0, max: X_MAX_DAYS,
          afterBuildTicks: ax => { ax.ticks = XTICK_DAYS.map(v => ({value: v})); },
          afterFit: s => { s.height = xH; },
          grid: {display: false, drawTicks: false}, border: {display: false},
          ticks: {display: showX, autoSkip: false, maxRotation: 0, padding: 16, color: INK,
                  font: {size: 27}, callback: v => XTICK_LABELS[XTICK_DAYS.indexOf(v)]},
          title: {display: showX, text: 'day/month', color: INK, font: {size: 30}, padding: {top: 0, bottom: 2}}
        },
        y: {
          min: cfg.ymin, max: cfg.ymax,
          afterBuildTicks: ax => { ax.ticks = cfg.yticks.map(v => ({value: v})); },
          afterFit: s => { s.width = L; },
          grid: {display: false, drawTicks: false}, border: {display: false},
          ticks: {autoSkip: false, padding: cfg.tickPad, color: INK, font: {size: 27}, callback: cfg.ylab},
          title: {display: true, text: cfg.title, color: INK, font: {size: 30}, padding: {top: cfg.tpad, bottom: 0}}
        }
      }
    },
    plugins: [boxPlugin]
  });
}

const num = v => String(v);
const dir = v => DIR_LABELS[v];

makePanel({id: 'ca', rect: [103, 50, 932, 178], ymin: 0, ymax: 1.306, yticks: [0, 0.5, 1], ylab: num, tickPad: 9,
  title: 'Hs (m)', tpad: 10, label: 'a.', lx: 131, ly: 83,
  series: [[HS_SWAN, BLUE, 3.2], [HS_DWDB, RED, 2.6], [HS_OBS, BLACK, 2.6]]});
makePanel({id: 'cb', rect: [103, 232, 932, 361], ymin: 0, ymax: 10, yticks: [0, 5, 10], ylab: num, tickPad: 12,
  title: 'Tm (s)', tpad: 18, label: 'b.', lx: 131, ly: 271,
  series: [[TM_SWAN, BLUE, 3.2], [TM_DWDB, RED, 2.6], [TM_OBS, BLACK, 2.6]]});
makePanel({id: 'cc', rect: [103, 416, 932, 544], ymin: -5.8, ymax: 365.8, yticks: [0, 90, 180, 270, 360], ylab: dir, tickPad: 12,
  title: 'Dm (deg N)', tpad: 21, label: 'c.', lx: 131, ly: 445,
  series: [[DM_SWAN, BLUE, 3.2], [DM_DWDB, RED, 2.6], [DM_OBS, BLACK, 2.6]]});
makePanel({id: 'cd', rect: [103, 597, 932, 727], ymin: 0, ymax: 11.6, yticks: [0, 5, 10], ylab: num, tickPad: 12,
  title: 'Wspd (m/s)', tpad: 16, label: 'd.', lx: 131, ly: 633,
  series: [[WSPD_ERA5, PURPLE, 2.7], [WSPD_OBS, BLACK, 2.6]]});
makePanel({id: 'ce', rect: [103, 782, 932, 909], ymin: -8.8, ymax: 362.9, yticks: [0, 90, 180, 270, 360], ylab: dir, tickPad: 12,
  title: 'Wdir (deg N)', tpad: 21, label: 'e.', lx: 131, ly: 810, showX: true,
  series: [[WDIR_ERA5, PURPLE, 2.7], [WDIR_OBS, BLACK, 2.6]]});
</script>
</body></html>
